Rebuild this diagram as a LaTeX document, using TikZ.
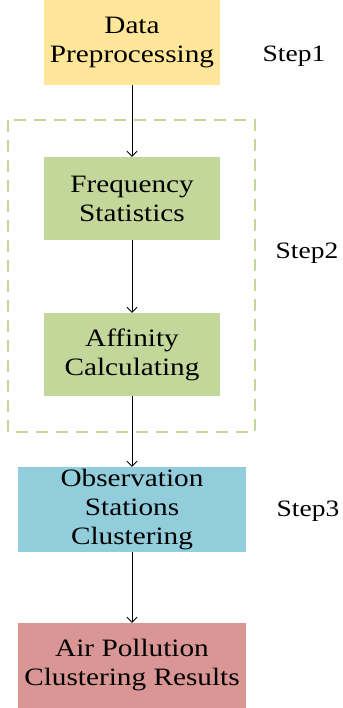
\documentclass[tikz,border=0pt]{standalone}
\usepackage{fontspec}
\setmainfont{Liberation Serif}[FakeStretch=1.17]
\usetikzlibrary{arrows.meta}
\definecolor{prepyellow}{HTML}{FFE699}
\definecolor{stepgreen}{HTML}{C4D79B}
\definecolor{obsblue}{HTML}{92CDDC}
\definecolor{resred}{HTML}{DA9694}
\tikzset{>/.tip={Straight Barb[length=5pt,width=10pt]},
  stepbox/.style={align=center, inner sep=0pt, font=\fontsize{25}{29}\selectfont},
  steplabel/.style={font=\fontsize{23.5}{29}\selectfont}}

\begin{document}
\begin{tikzpicture}[x=1pt, y=-1pt]
\useasboundingbox (0,0) rectangle (342,708);
\draw[stepgreen, line width=1.5pt, dash pattern=on 12pt off 8pt] (8,120) rectangle (255,432);

\node[stepbox, fill=prepyellow, minimum width=176pt, minimum height=85pt] (prep) at (132,42.5) {Data\\Preprocessing};
\node[stepbox, fill=stepgreen, minimum width=176pt, minimum height=83pt] (freq) at (132,198.5) {Frequency\\Statistics};
\node[stepbox, fill=stepgreen, minimum width=176pt, minimum height=83pt] (aff) at (132,354.5) {Affinity\\Calculating};
\node[stepbox, fill=obsblue, minimum width=228pt, minimum height=85pt] (obs) at (132,509.5) {Observation\\Stations\\Clustering};
\node[stepbox, fill=resred, minimum width=228pt, minimum height=85pt] (res) at (132,665.5) {Air Pollution\\Clustering Results};

\node[steplabel] (s1) at (294,56) {Step1};
\node[steplabel] (s2) at (307,253) {Step2};
\node[steplabel] (s3) at (308,511) {Step3};

\draw[->, line width=0.8pt] (prep) to (freq);
\draw[->, line width=0.8pt] (freq) to (aff);
\draw[->, line width=0.8pt] (aff) to (obs);
\draw[->, line width=0.8pt] (obs) to (res);
\end{tikzpicture}
\end{document}
